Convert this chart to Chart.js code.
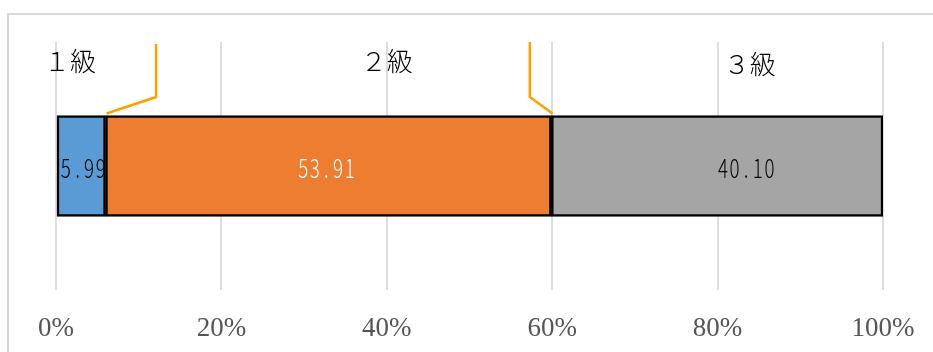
<!DOCTYPE html>
<html lang="ja">
<head>
    <meta charset="UTF-8">
    <title>級別構成比</title>
    <script src="https://cdn.jsdelivr.net/npm/chart.js"></script>
    <style>
        html, body {
            margin: 0;
            padding: 0;
            background: #fff;
            overflow: hidden;
        }
        .frame {
            position: absolute;
            left: 7px;
            top: 13px;
            width: 960px;
            height: 400px;
            border: 2px solid #d9d9d9;
        }
        .chart-box {
            position: absolute;
            left: 0;
            top: 0;
            width: 933px;
            height: 352px;
        }
    </style>
</head>
<body>
    <div class="frame"></div>
    <div class="chart-box">
        <canvas id="gradeChart"></canvas>
    </div>

    <script>
        // 級別の構成比（%）
        const categories = ['全体'];
        const gradeNames = ['１級', '２級', '３級'];
        const gradeShares = [5.99, 53.91, 40.10];
        const gradeColors = ['#5b9bd5', '#ed7d31', '#a5a5a5'];
        const valueTextColors = ['#000', '#fff', '#000'];
        const tickValues = [0, 20, 40, 60, 80, 100];

        // 級名ラベルの位置（x は軸の値、y はピクセル）
        const namePos = [
            { x: 1.7, y: 61 },
            { x: 40.0, y: 61 },
            { x: 83.9, y: 64 }
        ];
        // 数値ラベルの横ずらし
        const valueShift = [2, -2, 29];
        // 引き出し線（縦線の位置は軸の値）
        const leaders = [
            { seg: 0, x: 12.1, top: 44, knee: 97 },
            { seg: 1, x: 57.3, top: 42, knee: 97 }
        ];

        const labelPlugin = {
            id: 'gradeLabels',
            afterDatasetsDraw(chart) {
                const ctx = chart.ctx;
                const xs = chart.scales.x;
                ctx.save();

                // 値ラベル（等幅風に1文字ずつ描く）
                gradeShares.forEach((v, i) => {
                    const el = chart.getDatasetMeta(i).data[0];
                    const cx = (el.x + el.base) / 2 + valueShift[i];
                    const txt = v.toFixed(2);
                    const cell = 11.6;
                    const startX = cx - cell * txt.length / 2 + cell / 2;
                    ctx.fillStyle = valueTextColors[i];
                    ctx.font = '300 26px "Noto Sans CJK JP"';
                    ctx.textAlign = 'center';
                    ctx.textBaseline = 'middle';
                    for (let k = 0; k < txt.length; k++) {
                        ctx.save();
                        ctx.translate(startX + k * cell, el.y + 2);
                        ctx.scale(0.72, 1);
                        ctx.fillText(txt[k], 0, 0);
                        ctx.restore();
                    }
                });

                // 級名
                ctx.fillStyle = '#000';
                ctx.font = '300 26px "Noto Sans CJK JP"';
                ctx.textAlign = 'center';
                ctx.textBaseline = 'middle';
                gradeNames.forEach((name, i) => {
                    ctx.fillText(name, xs.getPixelForValue(namePos[i].x), namePos[i].y);
                });

                // 引き出し線
                ctx.strokeStyle = '#ffa000';
                ctx.lineWidth = 2.5;
                ctx.lineJoin = 'miter';
                leaders.forEach(l => {
                    const el = chart.getDatasetMeta(l.seg).data[0];
                    const barTop = el.y - el.height / 2;
                    const lx = xs.getPixelForValue(l.x);
                    ctx.beginPath();
                    ctx.moveTo(lx, l.top);
                    ctx.lineTo(lx, l.knee);
                    ctx.lineTo(el.x + 1, barTop - 2);
                    ctx.stroke();
                });

                ctx.restore();
            }
        };

        const ctx = document.getElementById('gradeChart').getContext('2d');
        new Chart(ctx, {
            type: 'bar',
            data: {
                labels: categories,
                datasets: gradeNames.map((name, i) => ({
                    label: name,
                    data: [gradeShares[i]],
                    backgroundColor: gradeColors[i],
                    borderColor: '#000',
                    borderWidth: 2.5,
                    borderSkipped: false,
                    barThickness: 101
                }))
            },
            options: {
                indexAxis: 'y',
                responsive: true,
                maintainAspectRatio: false,
                animation: false,
                layout: {
                    padding: { left: 56, right: 50, top: 42, bottom: 0 }
                },
                plugins: {
                    legend: { display: false },
                    tooltip: { enabled: false }
                },
                scales: {
                    x: {
                        stacked: true,
                        min: 0,
                        max: 100,
                        afterBuildTicks(scale) {
                            scale.ticks = tickValues.map(v => ({ value: v }));
                        },
                        afterFit(scale) {
                            scale.height = 62;
                            scale.paddingLeft = 0;
                            scale.paddingRight = 0;
                        },
                        grid: {
                            color: '#dedede',
                            lineWidth: 2,
                            drawTicks: false
                        },
                        border: { display: false },
                        ticks: {
                            padding: 23,
                            color: '#555',
                            font: { family: '"Liberation Serif"', size: 27 },
                            callback: v => v + '%'
                        }
                    },
                    y: {
                        stacked: true,
                        display: false
                    }
                }
            },
            plugins: [labelPlugin]
        });
    </script>
</body>
</html>
